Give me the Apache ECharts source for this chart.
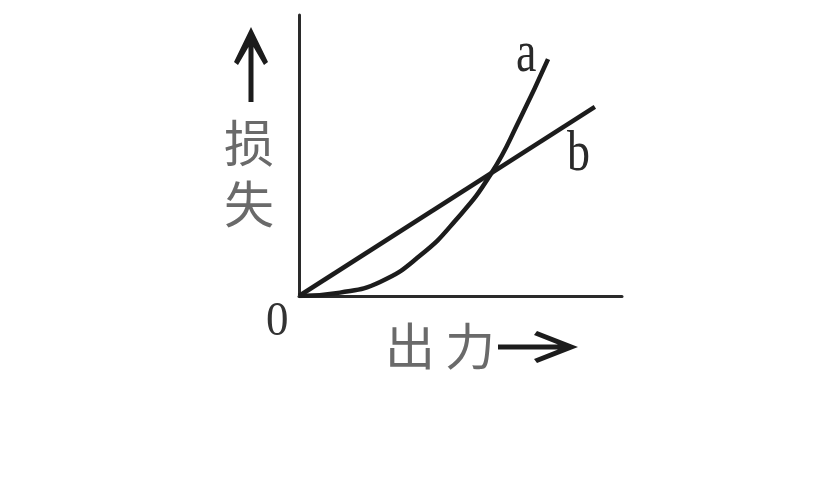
<!DOCTYPE html>
<html>
<head>
<meta charset="utf-8">
<script src="https://cdn.jsdelivr.net/npm/echarts@6/dist/echarts.min.js"></script>
<style>
html,body{margin:0;padding:0;background:#fff;}
#c{width:832px;height:495px;}
</style>
</head>
<body>
<div id="c"></div>
<script>
// Data (axis units are arbitrary 0..10)
const curveA = [[0,0],[1.27,0.12],[2.51,0.50],[3.75,1.44],[4.83,2.67],[5.94,4.34],[6.84,6.30],[7.71,8.43]];
const lineB = [[0,0],[9.16,6.73]];
const seriesNames = ['a','b'];
const yAxisTitle = ['损','失'];
const xAxisTitle = ['出','力'];
const originLabel = '0';

const chart = echarts.init(document.getElementById('c'));
const ink = '#1c1c1c';
const cjk = '"Noto Sans CJK SC", sans-serif';
const serif = '"Liberation Serif", "DejaVu Serif", serif';

chart.setOption({
  backgroundColor: '#fff',
  animation: false,
  grid: {left: 299, top: 15, width: 323, height: 281},
  xAxis: {
    type: 'value', min: 0, max: 10,
    axisLine: {show: true, onZero: false, lineStyle: {color: '#2a2a2a', width: 3}},
    axisTick: {show: false}, axisLabel: {show: false}, splitLine: {show: false}
  },
  yAxis: {
    type: 'value', min: 0, max: 10,
    axisLine: {show: true, onZero: false, lineStyle: {color: '#2a2a2a', width: 3}},
    axisTick: {show: false}, axisLabel: {show: false}, splitLine: {show: false}
  },
  series: [
    {
      name: seriesNames[0], type: 'line', data: curveA, smooth: 0.5,
      showSymbol: false, lineStyle: {color: ink, width: 4.5}
    },
    {
      name: seriesNames[1], type: 'line', data: lineB,
      showSymbol: false, lineStyle: {color: ink, width: 4.5}
    }
  ],
  graphic: [
    // series labels
    {type: 'text', left: 516, top: 26, scaleY: 1.28, style: {text: seriesNames[0], font: '46px ' + serif, fill: '#2a2a2a'}},
    {type: 'text', left: 567, top: 126, scaleY: 1.25, style: {text: seriesNames[1], font: '46px ' + serif, fill: '#2a2a2a'}},
    // origin
    {type: 'text', left: 266, top: 297, scaleY: 1.1, style: {text: originLabel, font: '45px ' + serif, fill: '#333'}},
    // y axis title (vertical)
    {type: 'text', x: 249, y: 143, style: {text: yAxisTitle[0], font: '50px ' + cjk, fill: '#6a6a6a', align: 'center', verticalAlign: 'middle'}},
    {type: 'text', x: 249, y: 204, style: {text: yAxisTitle[1], font: '50px ' + cjk, fill: '#6a6a6a', align: 'center', verticalAlign: 'middle'}},
    // x axis title
    {type: 'text', x: 410, y: 346, style: {text: xAxisTitle[0], font: '50px ' + cjk, fill: '#6a6a6a', align: 'center', verticalAlign: 'middle'}},
    {type: 'text', x: 470, y: 346, style: {text: xAxisTitle[1], font: '50px ' + cjk, fill: '#6a6a6a', align: 'center', verticalAlign: 'middle'}},
    // up arrow
    {type: 'polygon', shape: {points: [[251,27],[268,62],[264,65],[253.5,47],[253.5,102],[248.5,102],[248.5,47],[238,65],[234,62]]}, style: {fill: ink}},
    // right arrow
    {type: 'polygon', shape: {points: [[578,347],[537,331],[534,335],[558,344.5],[498,344.5],[498,349.5],[558,349.5],[534,359],[537,363]]}, style: {fill: ink}}
  ]
});
</script>
</body>
</html>
